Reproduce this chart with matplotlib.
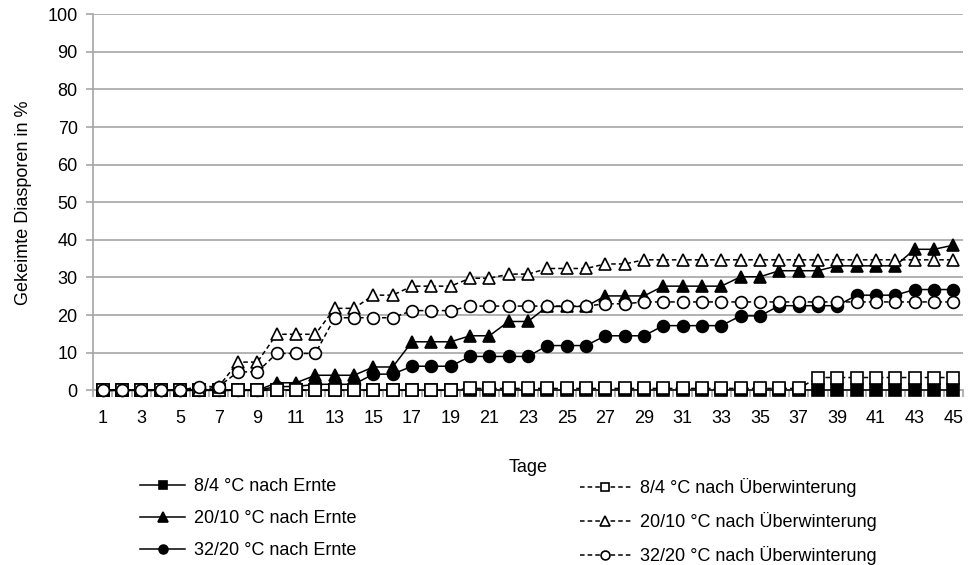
import matplotlib
matplotlib.use("Agg")
import matplotlib.pyplot as plt
from matplotlib.ticker import FixedLocator, NullFormatter

plt.rcParams['font.family'] = ['Liberation Sans', 'DejaVu Sans']

days = list(range(1, 46))
xlabels = ["1", "3", "5", "7", "9", "11", "13", "15", "17", "19", "21", "23",
           "25", "27", "29", "31", "33", "35", "37", "39", "41", "43", "45"]

ernte_8_4 = [0, 0, 0, 0, 0, 0, 0, 0, 0, 0, 0, 0, 0, 0, 0, 0, 0, 0, 0, 0, 0, 0, 0,
             0, 0, 0, 0, 0, 0, 0, 0, 0, 0, 0, 0, 0, 0, 0, 0, 0, 0, 0, 0, 0, 0]
ernte_20_10 = [0, 0, 0, 0, 0, 0, 0, 0, 0, 2.0, 2.0, 4.0, 4.0, 4.0, 6.2, 6.2,
               12.9, 12.9, 12.9, 14.5, 14.5, 18.3, 18.3, 22.3, 22.3, 22.3,
               25.1, 25.1, 25.1, 27.7, 27.7, 27.7, 27.7, 30.2, 30.2, 31.8,
               31.8, 31.8, 33.1, 33.1, 33.1, 33.1, 37.5, 37.5, 38.6]
ernte_32_20 = [0, 0, 0, 0, 0, 0, 0, 0, 0, 1.0, 1.0, 1.6, 1.6, 1.6, 4.3, 4.3,
               6.4, 6.4, 6.4, 9.0, 9.0, 9.0, 9.0, 11.9, 11.9, 11.9,
               14.5, 14.5, 14.5, 17.2, 17.2, 17.2, 17.2, 19.8, 19.8, 22.5,
               22.5, 22.5, 22.5, 25.3, 25.3, 25.3, 26.8, 26.8, 26.8]
ueber_8_4 = [0, 0, 0, 0, 0, 0, 0, 0, 0, 0, 0, 0, 0, 0, 0, 0, 0, 0, 0,
             0.5, 0.5, 0.5, 0.5, 0.5, 0.5, 0.5, 0.5, 0.5, 0.5, 0.5, 0.5, 0.5,
             0.5, 0.5, 0.5, 0.5, 0.5, 3.4, 3.4, 3.4, 3.4, 3.4, 3.4, 3.4, 3.4]
ueber_20_10 = [0, 0, 0, 0, 0, 0, 1.0, 7.5, 7.5, 14.9, 14.9, 14.9, 21.8, 21.8,
               25.3, 25.3, 27.7, 27.7, 27.7, 29.8, 29.8, 30.9, 30.9, 32.4,
               32.4, 32.4, 33.6, 33.6, 34.7, 34.7, 34.7, 34.7, 34.7, 34.7,
               34.7, 34.7, 34.7, 34.7, 34.7, 34.7, 34.7, 34.7, 34.7, 34.7, 34.7]
ueber_32_20 = [0, 0, 0, 0, 0, 1.0, 1.0, 4.9, 4.9, 9.8, 9.8, 9.8, 19.3, 19.3,
               19.3, 19.3, 21.2, 21.2, 21.2, 22.4, 22.4, 22.4, 22.4, 22.4,
               22.4, 22.4, 23.0, 23.0, 23.5, 23.5, 23.5, 23.5, 23.5, 23.5,
               23.5, 23.5, 23.5, 23.5, 23.5, 23.5, 23.5, 23.5, 23.5, 23.5, 23.5]

series = [
    (ernte_8_4, "8/4 °C nach Ernte", "s", "black", "-"),
    (ernte_20_10, "20/10 °C nach Ernte", "^", "black", "-"),
    (ernte_32_20, "32/20 °C nach Ernte", "o", "black", "-"),
    (ueber_8_4, "8/4 °C nach Überwinterung", "s", "white", (0, (3, 2))),
    (ueber_20_10, "20/10 °C nach Überwinterung", "^", "white", (0, (3, 2))),
    (ueber_32_20, "32/20 °C nach Überwinterung", "o", "white", (0, (3, 2))),
]

FS = 13

fig = plt.figure(figsize=(9.69, 5.65), dpi=100)
ax = fig.add_axes([0.096, 0.3092, 0.8978, 0.6655])

handles = []
for vals, lab, mk, fc, ls in series:
    ms = 9 if mk == "^" else 8.5
    h, = ax.plot(days, vals, linestyle=ls, color="black", linewidth=1.1,
                 marker=mk, markersize=ms, markerfacecolor=fc,
                 markeredgecolor="black", markeredgewidth=1.2, label=lab,
                 clip_on=False, zorder=3)
    handles.append(h)

ax.set_xlim(0.5, 45.5)
ax.set_ylim(0, 100)
ax.set_yticks(range(0, 101, 10))
ax.yaxis.grid(True, color="#a6a6a6", linewidth=1.2)
ax.set_axisbelow(True)
for s in ["top", "right"]:
    ax.spines[s].set_visible(False)
for s in ["left", "bottom"]:
    ax.spines[s].set_color("#a6a6a6")
    ax.spines[s].set_linewidth(1.2)

ax.xaxis.set_major_locator(FixedLocator([int(t) for t in xlabels]))
ax.set_xticklabels(xlabels)
ax.xaxis.set_minor_locator(FixedLocator([d + 0.5 for d in range(0, 46)]))
ax.xaxis.set_minor_formatter(NullFormatter())
ax.tick_params(axis="x", which="major", length=0, pad=14, labelsize=FS)
ax.tick_params(axis="x", which="minor", length=5, color="#a6a6a6", width=1.2)
ax.tick_params(axis="y", length=5, color="#a6a6a6", width=1.2, pad=6,
               labelsize=FS)

ax.set_xlabel("Tage", fontsize=FS, labelpad=23)
ax.set_ylabel("Gekeimte Diasporen in %", fontsize=FS, labelpad=11)

leg_kw = dict(loc="upper left", frameon=False, fontsize=FS, borderpad=0,
              handletextpad=0.5, labelspacing=0.84,
              markerscale=0.75, borderaxespad=0)
leg1 = fig.legend(handles[:3], [h.get_label() for h in handles[:3]],
                  bbox_to_anchor=(140 / 969, 1 - 478 / 565),
                  handlelength=2.5, **leg_kw)
leg2 = fig.legend(handles[3:], [h.get_label() for h in handles[3:]],
                  bbox_to_anchor=(580 / 969, 1 - 478 / 565),
                  handlelength=2.8, **leg_kw)

fig.savefig("out.png", dpi=100)
